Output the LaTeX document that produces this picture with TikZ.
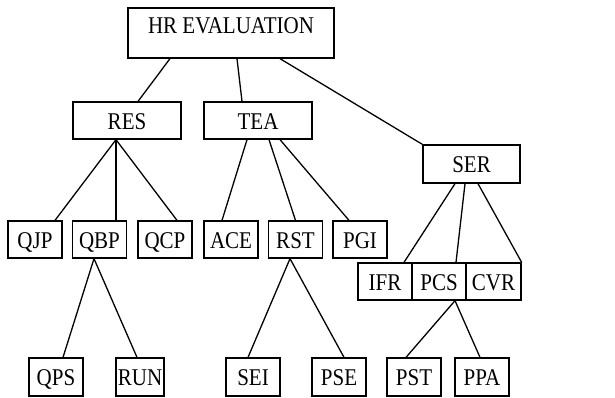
\documentclass[tikz,border=0pt]{standalone}
\usepackage{fontspec}
\setmainfont{Liberation Serif}[FakeStretch=0.875]
\usepackage{tikz}
\usetikzlibrary{calc}

\begin{document}
\begin{tikzpicture}[x=0.5pt,y=-0.5pt,line width=0.65pt,
    root/.style={draw,minimum width=103pt,minimum height=25pt,inner sep=0pt,
                 text height=12.5pt,text depth=12.5pt},
    crit/.style={draw,minimum width=54pt,minimum height=18.5pt,inner sep=0pt,
                 text height=8.9pt,text depth=0pt},
    leaf/.style={draw,minimum width=27pt,minimum height=18.5pt,inner sep=0pt,
                 text height=8.9pt,text depth=0pt}]
    \useasboundingbox (0,0) rectangle (615,397);
    \tikzset{every node/.append style={font=\fontsize{12}{14}\selectfont}}

    \node[root] (hr) at (231,33) {HR EVALUATION};
    \node[crit] (res) at (127,120.5) {RES};
    \node[crit] (tea) at (258,120.5) {TEA};
    \node[crit,minimum width=48.5pt,minimum height=19pt] (ser) at (471.5,164) {SER};

    \node[leaf] (qjp) at (35,239.5) {QJP};
    \node[leaf] (qbp) at (99.5,239.5) {QBP};
    \node[leaf] (qcp) at (165,239.5) {QCP};
    \node[leaf] (ace) at (231,239.5) {ACE};
    \node[leaf] (rst) at (295.5,239.5) {RST};
    \node[leaf] (pgi) at (360,239.5) {PGI};

    \node[leaf] (ifr) at (385,281.5) {IFR};
    \node[leaf] (pcs) at (439,281.5) {PCS};
    \node[leaf,minimum width=27.5pt] (cvr) at (493.5,281.5) {CVR};

    \node[leaf,minimum height=19pt] (qps) at (56,377) {QPS};
    \node[leaf,minimum height=19pt,minimum width=24pt] (run) at (140,377) {RUN};
    \node[leaf,minimum height=19pt] (sei) at (253,377) {SEI};
    \node[leaf,minimum height=19pt] (pse) at (339,377) {PSE};
    \node[leaf,minimum height=19pt] (pst) at (414,377) {PST};
    \node[leaf,minimum height=19pt] (ppa) at (482,377) {PPA};

    % first level
    \draw ($(hr.south)+(-61,0)$) -- ($(res.north)+(11,0)$);
    \draw ($(hr.south)+(6,0)$) -- ($(tea.north)+(-16,0)$);
    \draw ($(hr.south)+(49,0)$) -- (ser.north west);

    % second level
    \draw ($(res.south)+(-11,0)$) -- ($(qjp.north)+(20,0)$);
    \draw ($(res.south)+(-11,0)$) -- ($(qbp.north)+(16.5,0)$);
    \draw ($(res.south)+(-11,0)$) -- ($(qcp.north)+(12,0)$);
    \draw ($(tea.south)+(-11,0)$) -- ($(ace.north)+(-9,0)$);
    \draw ($(tea.south)+(11,0)$) -- (rst.north);
    \draw ($(tea.south)+(22,0)$) -- ($(pgi.north)+(-11,0)$);
    \draw ($(ser.south)+(-16.5,0)$) -- ($(ifr.north)+(19,0)$);
    \draw ($(ser.south)+(-6.5,0)$) -- ($(pcs.north)+(17,0)$);
    \draw ($(ser.south)+(6.5,0)$) -- (cvr.north east);

    % third level
    \draw ($(qbp.south)+(-5.5,0)$) -- ($(qps.north)+(7,0)$);
    \draw ($(qbp.south)+(-5.5,0)$) -- ($(run.north)+(-3,0)$);
    \draw ($(rst.south)+(-5.5,0)$) -- ($(sei.north)+(-5,0)$);
    \draw ($(rst.south)+(-5.5,0)$) -- ($(pse.north)+(5,0)$);
    \draw ($(pcs.south)+(16,0)$) -- ($(pst.north)+(-8,0)$);
    \draw ($(pcs.south)+(16,0)$) -- ($(ppa.north)+(-2,0)$);
\end{tikzpicture}
\end{document}
